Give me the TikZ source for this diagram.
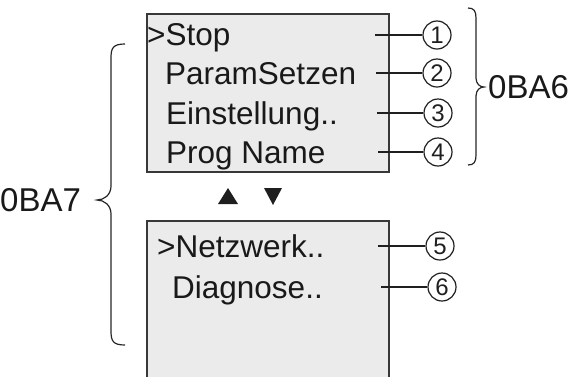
\documentclass[tikz,border=0pt]{standalone}
\usepackage{fontspec}
\setmainfont{Liberation Sans}
\begin{document}
\begin{tikzpicture}[x=1pt,y=-1pt,
  screen/.style={draw=black!78,line width=1.8pt,fill=black!8},
  txt/.style={inner sep=0pt,anchor=base west,font=\fontsize{31.5}{31.5}\selectfont,text=black!90},
  num/.style={circle,draw=black!88,line width=1.2pt,minimum size=28pt,inner sep=0pt,font=\fontsize{24}{24}\selectfont,text=black!88},
  lead/.style={line width=1.2pt,draw=black!88},
  brc/.style={line width=1.2pt,draw=black!85}]
\useasboundingbox (0,0) rectangle (569,376);
\draw[screen] (147,14) rectangle (389,172);
\draw[screen] (147,385) -- (147,221) -- (389,221) -- (389,385);
\node[txt] (t1) at (147,45) {>Stop};
\node[txt] (t2) at (165,84) {ParamSetzen};
\node[txt] (t3) at (166,124) {Einstellung..};
\node[txt] (t4) at (166,163) {Prog Name};
\node[txt] (t5) at (157,257) {>Netzwerk..};
\node[txt] (t6) at (172,298) {Diagnose..};
\node[num] (n1) at (437,35) {1};
\node[num] (n2) at (437,73) {2};
\node[num] (n3) at (438,113) {3};
\node[num] (n4) at (438,152) {4};
\node[num] (n5) at (440,246) {5};
\node[num] (n6) at (442,287) {6};
\coordinate (c1) at (375,35);
\coordinate (c2) at (376,73);
\coordinate (c3) at (377,113);
\coordinate (c4) at (378,152);
\coordinate (c5) at (378,246);
\coordinate (c6) at (381,287);
\foreach \i in {1,...,6} \draw[lead] (c\i) -- (n\i);
\draw[brc] (468,8) .. controls (474,8) and (476,11) .. (476,18) -- (476,78)
  .. controls (476,84) and (480,87) .. (484,87)
  .. controls (480,87) and (476,90) .. (476,96) -- (476,155)
  .. controls (476,162) and (474,165) .. (468,165);
\node[txt,anchor=west,font=\fontsize{33}{33}\selectfont] (b6) at (488,87) {0BA6};
\draw[brc] (125,44) .. controls (113,44) and (111,48) .. (111,58) -- (111,186)
  .. controls (111,195) and (104,200) .. (97,200)
  .. controls (104,200) and (111,205) .. (111,214) -- (111,331)
  .. controls (111,341) and (113,345) .. (125,345);
\node[txt,anchor=west,font=\fontsize{33}{33}\selectfont] (b7) at (0,200) {0BA7};
\fill[black!88] (218,204) -- (238,204) -- (228,188) -- cycle;
\fill[black!88] (264,188) -- (282,188) -- (273,205) -- cycle;
\end{tikzpicture}
\end{document}
